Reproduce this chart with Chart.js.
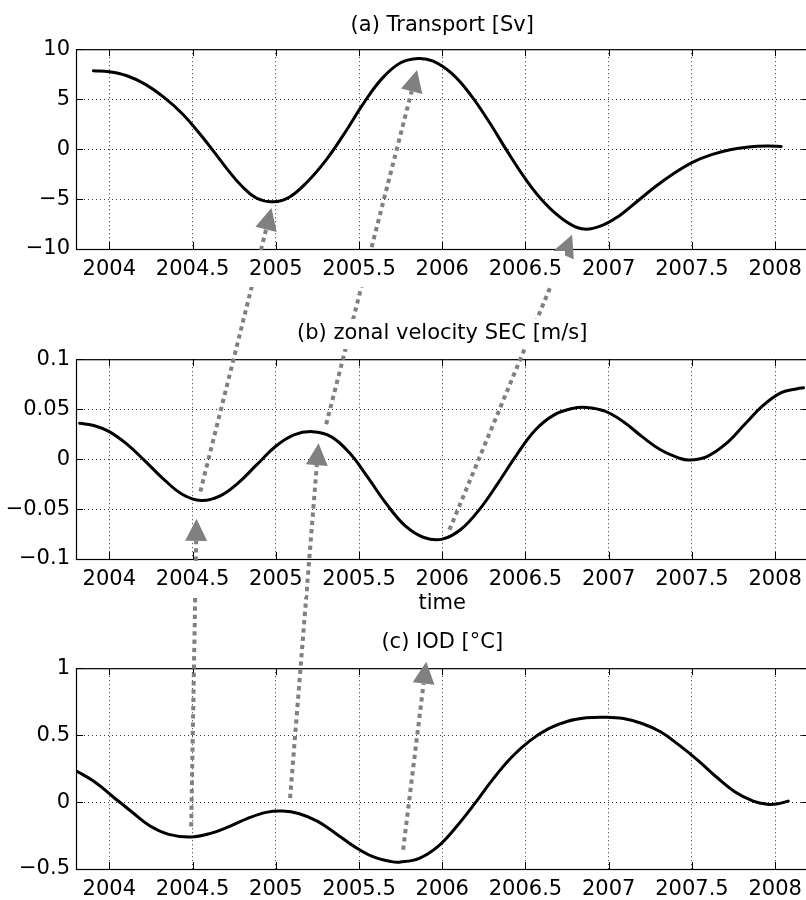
<!DOCTYPE html>
<html><head><meta charset="utf-8">
<script src="https://cdn.jsdelivr.net/npm/chart.js@4.4.0/dist/chart.umd.min.js"></script>
<style>
html,body{margin:0;padding:0;background:#fff;overflow:hidden;width:806px;height:900px;}
#wrap{position:relative;width:806px;height:900px;overflow:hidden;background:#fff;}
canvas{position:absolute;left:0;}
</style></head><body>
<div id="wrap">
<canvas id="ca" width="810" height="290" style="top:0px"></canvas>
<canvas id="cb" width="810" height="330" style="top:290px"></canvas>
<canvas id="cc" width="810" height="280" style="top:620px"></canvas>
<canvas id="ov" width="806" height="900" style="top:0px"></canvas>
</div>
<script>
// ---- data ----
const timeA = [2003.905,2004.0,2004.106,2004.217,2004.329,2004.44,2004.552,2004.635,2004.719,2004.803,2004.886,2004.984,2005.081,2005.193,2005.304,2005.416,2005.527,2005.639,2005.75,2005.856,2005.945,2006.057,2006.168,2006.28,2006.391,2006.503,2006.614,2006.726,2006.837,2006.949,2007.06,2007.172,2007.283,2007.395,2007.506,2007.618,2007.729,2007.841,2007.952,2008.036];
const transportSv = [7.84,7.74,7.34,6.48,5.18,3.52,1.36,-0.40,-2.23,-3.82,-4.92,-5.28,-4.82,-3.22,-1.06,1.66,4.58,7.08,8.64,9.07,8.80,7.57,5.48,2.76,-0.23,-3.06,-5.38,-7.04,-7.97,-7.71,-6.71,-5.22,-3.72,-2.39,-1.30,-0.56,-0.07,0.20,0.30,0.27];

const timeB = [2003.822,2003.911,2004.0,2004.106,2004.217,2004.329,2004.44,2004.552,2004.663,2004.775,2004.886,2004.998,2005.109,2005.221,2005.332,2005.444,2005.555,2005.667,2005.778,2005.89,2006.001,2006.113,2006.224,2006.336,2006.447,2006.559,2006.67,2006.782,2006.865,2006.977,2007.088,2007.2,2007.311,2007.423,2007.484,2007.59,2007.701,2007.813,2007.924,2008.036,2008.133,2008.17];
const velocitySEC = [0.0358,0.0334,0.0275,0.0149,-0.0023,-0.0205,-0.0354,-0.0414,-0.0371,-0.0238,-0.0056,0.0126,0.0242,0.0275,0.0225,0.006,-0.0189,-0.0454,-0.0669,-0.0785,-0.0801,-0.0702,-0.0503,-0.0238,0.0043,0.0291,0.044,0.0507,0.0517,0.048,0.0374,0.0225,0.0093,0.001,-0.001,0.0026,0.0149,0.0341,0.0533,0.0666,0.0705,0.0715];

const timeC = [2003.8,2003.911,2004.022,2004.134,2004.245,2004.357,2004.49,2004.608,2004.719,2004.831,2004.942,2005.04,2005.137,2005.249,2005.36,2005.472,2005.583,2005.695,2005.75,2005.862,2005.973,2006.085,2006.196,2006.308,2006.419,2006.531,2006.642,2006.754,2006.865,2006.977,2007.088,2007.2,2007.311,2007.423,2007.534,2007.645,2007.757,2007.868,2007.952,2008.008,2008.078];
const iodC = [0.234,0.152,0.04,-0.072,-0.179,-0.241,-0.261,-0.234,-0.184,-0.122,-0.077,-0.067,-0.085,-0.142,-0.234,-0.333,-0.408,-0.445,-0.448,-0.420,-0.333,-0.184,-0.010,0.177,0.338,0.463,0.550,0.604,0.629,0.634,0.624,0.587,0.525,0.425,0.313,0.189,0.077,0.007,-0.017,-0.015,0.007];

const xTicks = [2004,2004.5,2005,2005.5,2006,2006.5,2007,2007.5,2008];
const xTickLabels = ['2004','2004.5','2005','2005.5','2006','2006.5','2007','2007.5','2008'];
const yTicksA = [-10,-5,0,5,10];
const yTickLabelsA = ['\u221210','\u22125','0','5','10'];
const yTicksB = [-0.1,-0.05,0,0.05,0.1];
const yTickLabelsB = ['\u22120.1','\u22120.05','0','0.05','0.1'];
const yTicksC = [-0.5,0,0.5,1];
const yTickLabelsC = ['\u22120.5','0','0.5','1'];
const titles = ['(a) Transport [Sv]','(b) zonal velocity SEC [m/s]','(c) IOD [\u00b0C]'];
const xAxisTitleB = 'time';

// arrows: panel index (0=a,1=b,2=c) and data coordinates of tail and head
const arrowFromPanel = [1,1,1,2,2,2];
const arrowFromX = [2004.547,2005.303,2006.043,2004.492,2005.086,2005.765];
const arrowFromY = [-0.0325,0.035,-0.0708,-0.182,0.03,-0.356];
const arrowToPanel = [0,0,0,1,1,2];
const arrowToX = [2004.974,2005.849,2006.78,2004.524,2005.257,2005.904];
const arrowToY = [-5.9,7.93,-8.57,-0.0598,0.0159,1.049];

// ---- styling ----
const FONT = '"DejaVu Sans", sans-serif';
const FS = 21;
const GRID = 'rgba(0,0,0,0.8)';
const GRAY = '#808080';
const X_MIN = 2003.8, X_MAX = 2008.2;
const TL = 7;

const boxPlugin = {
  id: 'box',
  afterDraw(chart) {
    const {ctx, chartArea: a} = chart;
    const xs = chart.scales.x, ys = chart.scales.y;
    ctx.save();
    ctx.strokeStyle = '#000';
    ctx.lineWidth = 1.2;
    ctx.strokeRect(a.left + 0.5, a.top + 0.5, a.right - a.left, a.bottom - a.top);
    ctx.beginPath();
    xs.ticks.forEach(t => {
      const px = Math.round(xs.getPixelForValue(t.value)) + 0.5;
      ctx.moveTo(px, a.bottom); ctx.lineTo(px, a.bottom - TL);
      ctx.moveTo(px, a.top); ctx.lineTo(px, a.top + TL);
    });
    ys.ticks.forEach(t => {
      const py = Math.round(ys.getPixelForValue(t.value)) + 0.5;
      ctx.moveTo(a.left, py); ctx.lineTo(a.left + TL, py);
      ctx.moveTo(a.right, py); ctx.lineTo(a.right - TL, py);
    });
    ctx.lineWidth = 1;
    ctx.stroke();
    ctx.restore();
  }
};

function makeChart(id, xs, ys, yTicks, yLabels, yMin, yMax, title, titlePad, axisH, xTitle) {
  return new Chart(document.getElementById(id), {
    type: 'line',
    data: { datasets: [{
      data: xs.map((x, i) => ({x: x, y: ys[i]})),
      borderColor: '#000', borderWidth: 3, pointRadius: 0,
      tension: 0.4, fill: false, borderCapStyle: 'round', borderJoinStyle: 'round'
    }]},
    options: {
      responsive: false, animation: false, devicePixelRatio: 1,
      layout: {padding: 0},
      plugins: {
        legend: {display: false}, tooltip: {enabled: false},
        title: {display: true, text: title, fullSize: false, color: '#000',
          font: {family: FONT, size: FS, weight: 'normal', lineHeight: 1.2}, padding: titlePad}
      },
      scales: {
        x: {
          type: 'linear', min: X_MIN, max: X_MAX,
          afterBuildTicks: s => { s.ticks = xTicks.map(v => ({value: v})); },
          ticks: {callback: (v, i) => xTickLabels[i], color: '#000', font: {family: FONT, size: FS},
            padding: 8, maxRotation: 0, autoSkip: false},
          grid: {color: GRID, lineWidth: 1, drawTicks: false},
          border: {display: false, dash: [1, 3]},
          title: xTitle ? {display: true, text: xTitle, color: '#000',
            font: {family: FONT, size: FS, lineHeight: 1.2}, padding: {top: 0, bottom: 4}} : {display: false},
          afterFit: s => { s.height = axisH; }
        },
        y: {
          type: 'linear', min: yMin, max: yMax,
          afterBuildTicks: s => { s.ticks = yTicks.map(v => ({value: v})); },
          ticks: {callback: (v, i) => yLabels[i], color: '#000', font: {family: FONT, size: FS}, padding: 6},
          grid: {color: GRID, lineWidth: 1, drawTicks: false},
          border: {display: false, dash: [1, 3]},
          afterFit: s => { s.width = 76; }
        }
      }
    },
    plugins: [boxPlugin]
  });
}

const chartA = makeChart('ca', timeA, transportSv, yTicksA, yTickLabelsA, -10, 10, titles[0], {top: 13, bottom: 11}, 41, null);
const chartB = makeChart('cb', timeB, velocitySEC, yTicksB, yTickLabelsB, -0.1, 0.1, titles[1], {top: 31, bottom: 13}, 61, xAxisTitleB);
const chartC = makeChart('cc', timeC, iodC, yTicksC, yTickLabelsC, -0.5, 1, titles[2], {top: 10, bottom: 13}, 31, null);

const charts = [chartA, chartB, chartC];
const offsets = [0, 290, 620];

function toPix(p, x, y) {
  const c = charts[p];
  return {x: c.scales.x.getPixelForValue(x), y: c.scales.y.getPixelForValue(y) + offsets[p]};
}

function drawArrow(ctx, p0, p1) {
  const dx = p1.x - p0.x, dy = p1.y - p0.y, L = Math.hypot(dx, dy);
  const ux = dx / L, uy = dy / L, HL = 22, HW = 11;
  const bx = p1.x - ux * HL, by = p1.y - uy * HL;
  ctx.save();
  ctx.strokeStyle = GRAY; ctx.fillStyle = GRAY;
  ctx.lineWidth = 4; ctx.lineCap = 'butt';
  ctx.setLineDash([4.3, 4]);
  ctx.beginPath(); ctx.moveTo(p0.x, p0.y); ctx.lineTo(bx, by); ctx.stroke();
  ctx.setLineDash([]);
  ctx.beginPath();
  ctx.moveTo(p1.x, p1.y);
  ctx.lineTo(bx - uy * HW, by + ux * HW);
  ctx.lineTo(bx + uy * HW, by - ux * HW);
  ctx.closePath(); ctx.fill();
  ctx.restore();
}

function drawOverlay() {
  const ov = document.getElementById('ov');
  const ctx = ov.getContext('2d');
  ctx.clearRect(0, 0, ov.width, ov.height);
  for (let i = 0; i < arrowFromX.length; i++) {
    drawArrow(ctx, toPix(arrowFromPanel[i], arrowFromX[i], arrowFromY[i]),
                   toPix(arrowToPanel[i], arrowToX[i], arrowToY[i]));
  }
  // text labels sit on opaque boxes, hiding the arrows behind them
  ctx.font = FS + 'px ' + FONT;
  charts.forEach((c, p) => {
    const a = c.chartArea, off = offsets[p], xs = c.scales.x;
    xs.ticks.forEach((t, i) => {
      const w = ctx.measureText(xTickLabels[i]).width + 6;
      const cx = xs.getPixelForValue(t.value);
      ctx.clearRect(cx - w / 2, off + a.bottom + 2, w, 36);
    });
    const tw = ctx.measureText(titles[p]).width + 6;
    const tcx = (a.left + a.right) / 2;
    ctx.clearRect(tcx - tw / 2, off + a.top - 40, tw, 30);
  });
}
drawOverlay();
</script>
</body></html>
